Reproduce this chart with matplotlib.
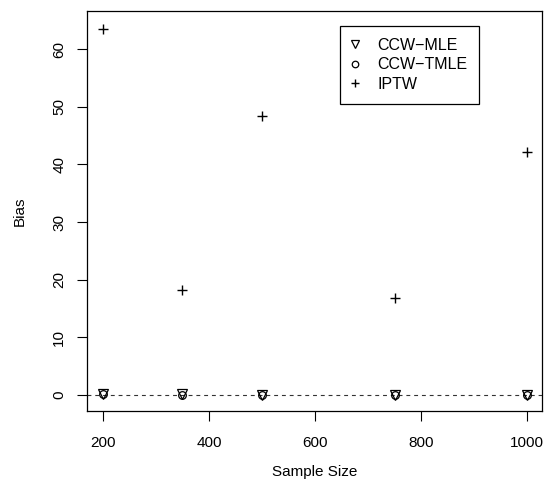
import matplotlib.pyplot as plt

# data
sample_size = [200, 350, 500, 750, 1000]
ccw_mle = [0.25, 0.10, 0.0, -0.05, -0.05]
ccw_tmle = [0.20, 0.05, 0.0, -0.05, -0.05]
iptw = [63.5, 18.2, 48.4, 16.8, 42.2]

x_ticks = [200, 400, 600, 800, 1000]
y_ticks = [0, 10, 20, 30, 40, 50, 60]

plt.rcParams['font.family'] = ['Liberation Sans', 'DejaVu Sans']
fs = 11

fig = plt.figure(figsize=(5.45, 4.86), dpi=100)
ax = fig.add_axes([87 / 545, 1 - 411 / 486, 455 / 545, 400 / 486])

ax.axhline(0, color='#333333', lw=0.8, linestyle=(0, (3.5, 3.5)), zorder=1)

ax.plot(sample_size, ccw_mle, linestyle='none', marker='v', ms=7,
        mfc='none', mec='black', mew=0.9, label='CCW\u2212MLE', zorder=3)
ax.plot(sample_size, ccw_tmle, linestyle='none', marker='o', ms=5.5,
        mfc='none', mec='black', mew=0.9, label='CCW\u2212TMLE', zorder=3)
ax.plot(sample_size, iptw, linestyle='none', marker='+', ms=7,
        mec='black', mew=1.0, label='IPTW', zorder=3)

ax.set_xlim(170, 1028)
ax.set_ylim(-2.77, 66.6)
ax.set_xticks(x_ticks)
ax.set_yticks(y_ticks)
ax.set_yticklabels([str(v) for v in y_ticks], rotation=90, va='center')
ax.tick_params(direction='out', length=7, width=0.8, labelsize=fs)
ax.tick_params(axis='x', pad=11)
ax.tick_params(axis='y', pad=8)

for s in ax.spines.values():
    s.set_linewidth(0.9)

ax.set_xlabel('Sample Size', fontsize=fs, labelpad=11)
ax.set_ylabel('Bias', fontsize=fs, labelpad=18)

leg = ax.legend(loc='upper left', bbox_to_anchor=(0.556, 0.9625),
                borderaxespad=0, fancybox=False, framealpha=1,
                edgecolor='black', fontsize=11.5, handlelength=0.5,
                handletextpad=1.1, labelspacing=0.3, borderpad=0.72,
                markerscale=0.85)
leg.get_frame().set_linewidth(0.9)

plt.savefig('out.png', dpi=100)
